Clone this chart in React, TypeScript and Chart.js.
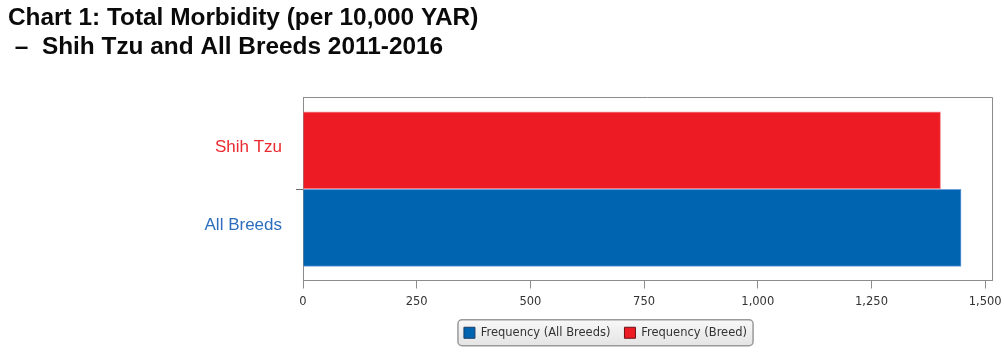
import React, { useEffect, useRef } from 'react';
import { Chart, registerables } from 'chart.js';

Chart.register(...registerables);

// ---- data ----
const titleLines = ['Chart 1: Total Morbidity (per 10,000 YAR)', ' \u2013  Shih Tzu and All Breeds 2011-2016'];
const categories = ['Shih Tzu', 'All Breeds'];
const seriesNames = ['Frequency (All Breeds)', 'Frequency (Breed)'];
const breedValues = [1402]; // Shih Tzu
const allBreedsValues = [1447]; // All Breeds
const xTickValues = [0, 250, 500, 750, 1000, 1250, 1500];
const xMax = 1515;

// ---- styles ----
const RED = '#ED1C24';
const BLUE = '#0064B1';
const RED_TEXT = '#EA2A30';
const BLUE_TEXT = '#2C6EBD';
const LEGEND_SHIFT = 105.5;

const frameAndLegendPlugin = {
  id: 'frameAndLegend',
  afterLayout(chart: any) {
    const lg = chart.legend;
    if (lg) {
      lg.left += LEGEND_SHIFT;
      lg.right += LEGEND_SHIFT;
    }
  },
  beforeDraw(chart: any) {
    const lg = chart.legend;
    if (!lg || !lg.legendHitBoxes || !lg.legendHitBoxes.length) return;
    const hb = lg.legendHitBoxes;
    const l = Math.min(...hb.map((h: any) => h.left)) - 6;
    const r = Math.max(...hb.map((h: any) => h.left + h.width)) + 6;
    const cy = hb[0].top + hb[0].height / 2;
    const t = cy - 13;
    const h = 26;
    const ctx = chart.ctx;
    ctx.save();
    const g = ctx.createLinearGradient(0, t, 0, t + h);
    g.addColorStop(0, '#f8f8f8');
    g.addColorStop(1, '#e4e4e4');
    ctx.fillStyle = g;
    ctx.strokeStyle = '#9a9a9a';
    ctx.lineWidth = 1.5;
    ctx.beginPath();
    (ctx as any).roundRect(l, t, r - l, h, 4);
    ctx.fill();
    ctx.stroke();
    ctx.restore();
  },
  beforeDatasetsDraw(chart: any) {
    const { ctx, chartArea } = chart;
    ctx.save();
    ctx.strokeStyle = '#8c8c8c';
    ctx.lineWidth = 1;
    ctx.beginPath();
    ctx.moveTo(chartArea.left, Math.round(chartArea.top) + 0.5);
    ctx.lineTo(Math.round(chartArea.right) + 0.5, Math.round(chartArea.top) + 0.5);
    ctx.lineTo(Math.round(chartArea.right) + 0.5, chartArea.bottom);
    ctx.stroke();
    ctx.restore();
  },
};

export default function App() {
  const ref = useRef<HTMLCanvasElement | null>(null);

  useEffect(() => {
    if (!ref.current) return;
    const shihIdx = categories.indexOf('Shih Tzu');
    const allIdx = categories.indexOf('All Breeds');
    const chart = new Chart(ref.current, {
      type: 'bar',
      data: {
        datasets: [
          {
            label: seriesNames[0],
            data: allBreedsValues.map((v) => ({ x: v, y: allIdx })),
            backgroundColor: BLUE,
            borderColor: 'rgba(90,150,215,0.9)',
            borderWidth: 1,
            borderSkipped: 'left',
          },
          {
            label: seriesNames[1],
            data: breedValues.map((v) => ({ x: v, y: shihIdx })),
            backgroundColor: RED,
            borderColor: 'rgba(245,140,145,0.9)',
            borderWidth: 1,
            borderSkipped: 'left',
          },
        ] as any,
      },
      plugins: [frameAndLegendPlugin],
      options: {
        indexAxis: 'y',
        animation: false,
        responsive: true,
        maintainAspectRatio: false,
        devicePixelRatio: 1,
        locale: 'en-US',
        grouped: false,
        barThickness: 77,
        layout: { padding: { left: 8, right: 12, top: 0, bottom: 3.5 } },
        scales: {
          x: {
            type: 'linear',
            min: 0,
            max: xMax,
            afterBuildTicks: (s: any) => {
              s.ticks = xTickValues.map((value) => ({ value }));
            },
            afterFit: (s: any) => {
              s.height = 32.5;
              s.paddingRight = 12;
              s.paddingLeft = 0;
            },
            border: { display: true, color: '#8c8c8c' },
            grid: { drawOnChartArea: false, drawTicks: true, tickLength: 8, color: '#8c8c8c' },
            ticks: {
              padding: 7,
              color: '#333333',
              font: { family: 'DejaVu Sans', size: 11.5 },
              maxRotation: 0,
            },
          },
          y: {
            type: 'linear',
            reverse: true,
            offset: false,
            min: -0.69,
            max: 1.68,
            afterBuildTicks: (s: any) => {
              const t = categories.map((_, i) => ({ value: i }));
              t.push({ value: 0.5 });
              s.ticks = t.sort((a, b) => a.value - b.value);
            },
            afterFit: (s: any) => {
              s.width = 295;
            },
            border: { display: true, color: '#8c8c8c' },
            grid: {
              offset: false,
              drawOnChartArea: false,
              drawTicks: true,
              tickLength: 7,
              color: (c: any) => (c.tick && c.tick.value === 0.5 ? '#6e6e6e' : 'rgba(0,0,0,0)'),
            },
            ticks: {
              padding: 14,
              labelOffset: -3,
              callback: (v: any) => (Number.isInteger(v) && categories[v] !== undefined ? categories[v] : ''),
              color: (c: any) => (c.tick && c.tick.value === shihIdx ? RED_TEXT : BLUE_TEXT),
              font: { family: 'Liberation Sans', size: 17 },
            },
          },
        },
        plugins: {
          title: {
            display: true,
            text: titleLines,
            align: 'start',
            color: '#0a0a0a',
            font: { family: 'Liberation Sans', size: 24.4, weight: 'bold', lineHeight: '29px' } as any,
            padding: { top: 3.5, bottom: 35.5 },
          },
          legend: {
            display: true,
            position: 'bottom',
            labels: {
              boxWidth: 11,
              boxHeight: 11,
              padding: 14,
              color: '#333333',
              font: { family: 'DejaVu Sans', size: 11.5 },
              generateLabels: (ch: any) => {
                const items = (Chart.defaults.plugins.legend.labels as any).generateLabels(ch);
                return items.map((it: any, i: number) => ({
                  ...it,
                  fillStyle: i === 0 ? BLUE : RED,
                  strokeStyle: i === 0 ? '#1b3d66' : '#6b1014',
                  lineWidth: 1,
                }));
              },
            },
          },
          tooltip: { enabled: false },
        },
      } as any,
    });
    return () => chart.destroy();
  }, []);

  return (
    <div style={{ position: 'absolute', left: 0, top: 0, width: 1004, height: 352, background: '#ffffff' }}>
      <canvas ref={ref} />
    </div>
  );
}
